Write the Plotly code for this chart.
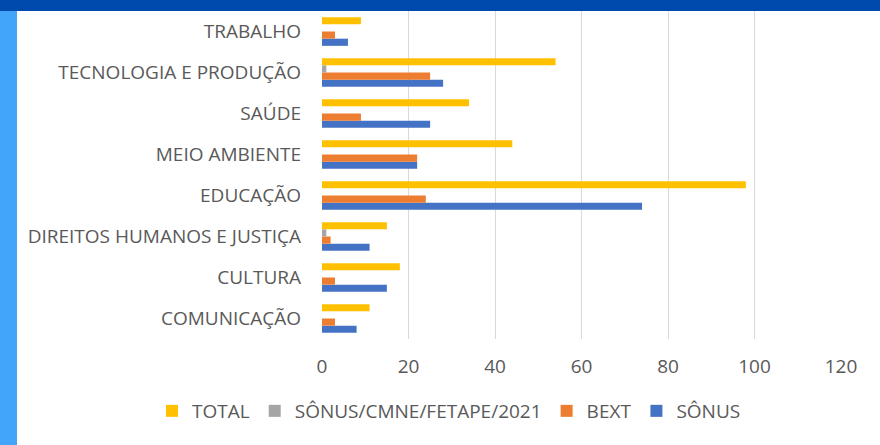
import plotly.graph_objects as go

categories = ["COMUNICAÇÃO", "CULTURA", "DIREITOS HUMANOS E JUSTIÇA", "EDUCAÇÃO",
              "MEIO AMBIENTE", "SAÚDE", "TECNOLOGIA E PRODUÇÃO", "TRABALHO"]
sonus = [8, 15, 11, 74, 22, 25, 28, 6]
bext = [3, 3, 2, 24, 22, 9, 25, 3]
sonus_cmne = [0, 0, 1, 0, 0, 0, 1, 0]
total = [11, 18, 15, 98, 44, 34, 54, 9]
x_ticks = [0, 20, 40, 60, 80, 100, 120]

font_family = "Open Sans, sans-serif"
fig = go.Figure()
for name, vals, color in [("SÔNUS", sonus, "#4472C4"),
                          ("BEXT", bext, "#ED7D31"),
                          ("SÔNUS/CMNE/FETAPE/2021", sonus_cmne, "#A5A5A5"),
                          ("TOTAL", total, "#FFC000")]:
    fig.add_trace(go.Bar(y=categories, x=vals, name=name, orientation="h",
                         marker=dict(color=color, line=dict(width=0))))

W, H = 880, 445
ml, mr, mt, mb = 322, 39, 11, 106
pw, ph = W - ml - mr, H - mt - mb

def px(x):
    return (x - ml) / pw

def py(y):
    return (H - mb - y) / ph

fig.update_layout(
    width=W, height=H,
    margin=dict(l=ml, r=mr, t=mt, b=mb, autoexpand=False),
    paper_bgcolor="white", plot_bgcolor="white",
    barmode="group", bargap=0.3, bargroupgap=0,
    font=dict(family=font_family, size=19, color="#595959"),
    xaxis=dict(range=[0, 120], tickvals=x_ticks, showgrid=True, gridcolor="#D9D9D9",
               gridwidth=1, zeroline=False, showline=False, ticks="",
               ticklabelstandoff=14, fixedrange=True, automargin=False),
    yaxis=dict(showgrid=False, zeroline=False, showline=False, ticks="",
               ticklabelstandoff=20, fixedrange=True, automargin=False),
    legend=dict(orientation="h", traceorder="reversed",
                x=px(152), xanchor="left", y=py(411), yanchor="middle",
                font=dict(size=19, color="#595959"), itemwidth=30),
    showlegend=True,
    shapes=[
        dict(type="rect", xref="paper", yref="paper", x0=px(0), x1=px(W), y0=py(11), y1=py(0),
             fillcolor="#004AAD", line=dict(width=0), layer="above"),
        dict(type="rect", xref="paper", yref="paper", x0=px(0), x1=px(17), y0=py(H), y1=py(11),
             fillcolor="#42A5FA", line=dict(width=0), layer="above"),
    ],
)
fig.write_html("out.html", config={"displayModeBar": False},
               post_script="document.body.style.margin='0';document.body.style.overflow='hidden';")
